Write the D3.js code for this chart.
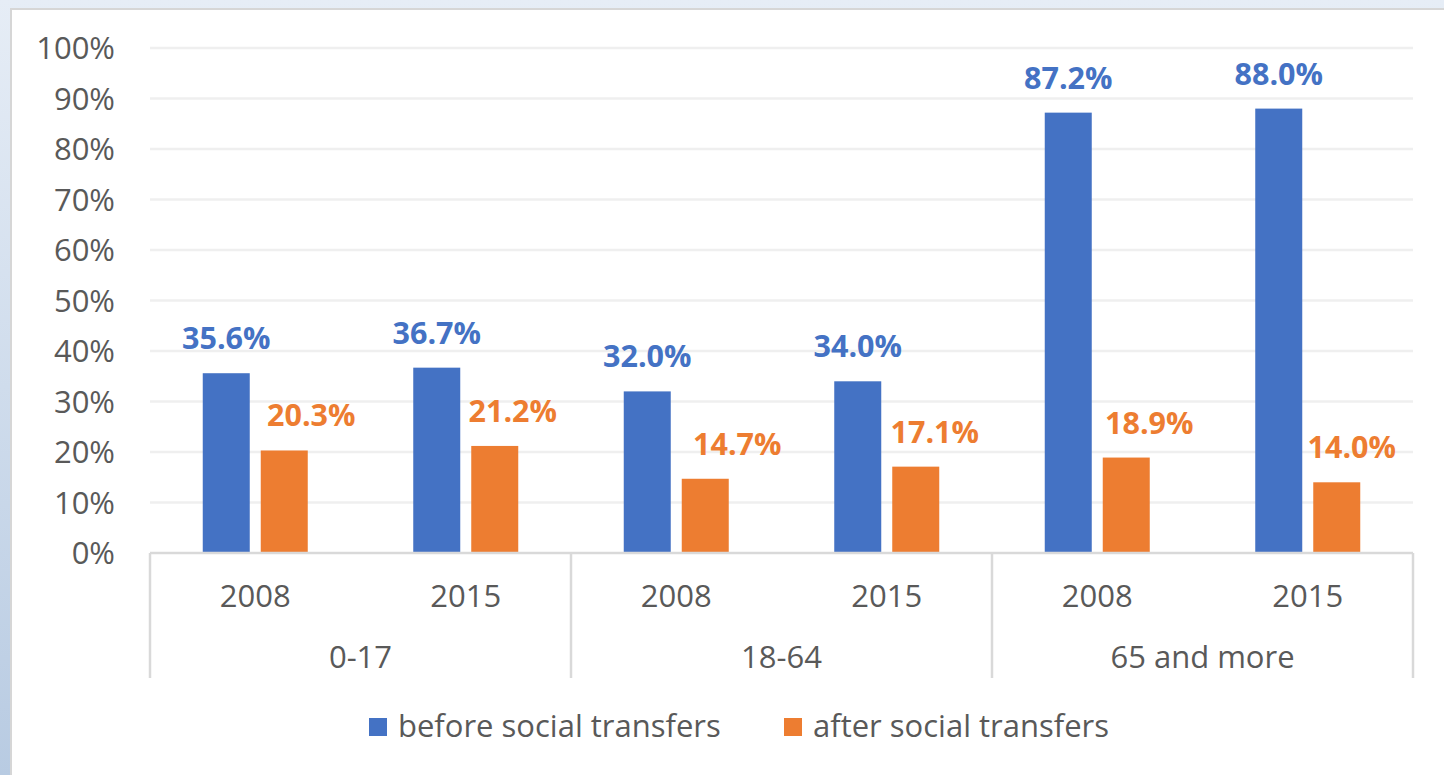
<!DOCTYPE html>
<html>
<head>
<meta charset="utf-8">
<script src="https://cdn.jsdelivr.net/npm/d3@7"></script>
<style>
  html, body { margin: 0; padding: 0; }
  body {
    width: 1444px; height: 775px; overflow: hidden;
    background: linear-gradient(to bottom, #e6edf6, #b8cbe2);
    font-family: "Open Sans", sans-serif;
  }
  #panel {
    position: absolute; left: 10px; top: 8px; width: 1450px; height: 800px;
    background: #fff; border-left: 2px solid #d6d6d6; border-top: 2px solid #d6d6d6;
  }
  svg { position: absolute; left: 0; top: 0; }
</style>
</head>
<body>
<div id="panel"></div>
<svg id="chart" width="1444" height="775"></svg>
<script>
const groups = ["0-17", "18-64", "65 and more"];
const years = ["2008", "2015"];
const seriesNames = ["before social transfers", "after social transfers"];
const seriesColors = ["#4472c4", "#ed7d31"];
// values [group][year]
const beforeValues = [[35.6, 36.7], [32.0, 34.0], [87.2, 88.0]];
const afterValues = [[20.3, 21.2], [14.7, 17.1], [18.9, 14.0]];
const yTicks = [0, 10, 20, 30, 40, 50, 60, 70, 80, 90, 100];

// the orange labels were nudged right by hand in the original
const afterLabelNudge = [27, 18, 32, 19, 23, 15];

const svg = d3.select("#chart");
const plotLeft = 150, plotRight = 1413, plotTop = 48, plotBottom = 553;
const textGrey = "#595959";

const y = d3.scaleLinear().domain([0, 100]).range([plotBottom, plotTop]);
const xGroup = d3.scaleBand().domain(groups).range([plotLeft, plotRight]);
const xYear = d3.scaleBand().domain(years).range([0, xGroup.bandwidth()]);

const barW = 47, gap = 11;

// gridlines
svg.append("g")
  .selectAll("line")
  .data(yTicks.filter(d => d > 0))
  .join("line")
  .attr("x1", plotLeft).attr("x2", plotRight)
  .attr("y1", d => y(d)).attr("y2", d => y(d))
  .attr("stroke", "#efefef").attr("stroke-width", 2.5);

// y tick labels
svg.append("g")
  .selectAll("text")
  .data(yTicks)
  .join("text")
  .attr("x", 115)
  .attr("y", d => y(d) + 11)
  .attr("text-anchor", "end")
  .attr("font-size", 31)
  .attr("fill", textGrey)
  .text(d => d + "%");

const rows = [];
groups.forEach((g, gi) => {
  years.forEach((yr, yi) => {
    const cx = xGroup(g) + xYear(yr) + xYear.bandwidth() / 2;
    const k = gi * years.length + yi;
    rows.push({ cx, s: 0, v: beforeValues[gi][yi], nudge: 0 });
    rows.push({ cx, s: 1, v: afterValues[gi][yi], nudge: afterLabelNudge[k] });
  });
});

const barX = d => d.s === 0 ? d.cx - gap / 2 - barW : d.cx + gap / 2;

svg.append("g")
  .selectAll("rect")
  .data(rows)
  .join("rect")
  .attr("x", barX)
  .attr("y", d => y(d.v))
  .attr("width", barW)
  .attr("height", d => y(0) - y(d.v))
  .attr("fill", d => seriesColors[d.s]);

svg.append("g")
  .selectAll("text")
  .data(rows)
  .join("text")
  .attr("x", d => barX(d) + barW / 2 + d.nudge)
  .attr("y", d => y(d.v) - 24)
  .attr("text-anchor", "middle")
  .attr("font-size", 30.5)
  .attr("font-weight", "bold")
  .attr("fill", d => seriesColors[d.s])
  .text(d => d.v.toFixed(1) + "%");

// category axis
const axisG = svg.append("g").attr("stroke", "#d9d9d9").attr("stroke-width", 2.5);
axisG.append("line").attr("x1", plotLeft).attr("x2", plotRight).attr("y1", plotBottom).attr("y2", plotBottom);
axisG.selectAll("line.sep")
  .data([...groups.map(g => xGroup(g)), plotRight])
  .join("line")
  .attr("class", "sep")
  .attr("x1", d => d).attr("x2", d => d)
  .attr("y1", plotBottom).attr("y2", 678);

const yearLabels = [];
groups.forEach(g => years.forEach(yr => yearLabels.push({ x: xGroup(g) + xYear(yr) + xYear.bandwidth() / 2, t: yr })));
svg.append("g")
  .selectAll("text")
  .data(yearLabels)
  .join("text")
  .attr("x", d => d.x).attr("y", 607)
  .attr("text-anchor", "middle")
  .attr("font-size", 31).attr("fill", textGrey)
  .text(d => d.t);

svg.append("g")
  .selectAll("text")
  .data(groups)
  .join("text")
  .attr("x", d => xGroup(d) + xGroup.bandwidth() / 2).attr("y", 668)
  .attr("text-anchor", "middle")
  .attr("font-size", 31).attr("fill", textGrey)
  .text(d => d);

// legend
const legendX = [369, 784];
const legend = svg.append("g")
  .selectAll("g")
  .data(seriesNames)
  .join("g")
  .attr("transform", (d, i) => `translate(${legendX[i]},718)`);
legend.append("rect").attr("width", 18).attr("height", 18).attr("fill", (d, i) => seriesColors[i]);
legend.append("text").attr("x", 29).attr("y", 19)
  .attr("font-size", 31).attr("fill", textGrey)
  .text(d => d);
</script>
</body>
</html>
